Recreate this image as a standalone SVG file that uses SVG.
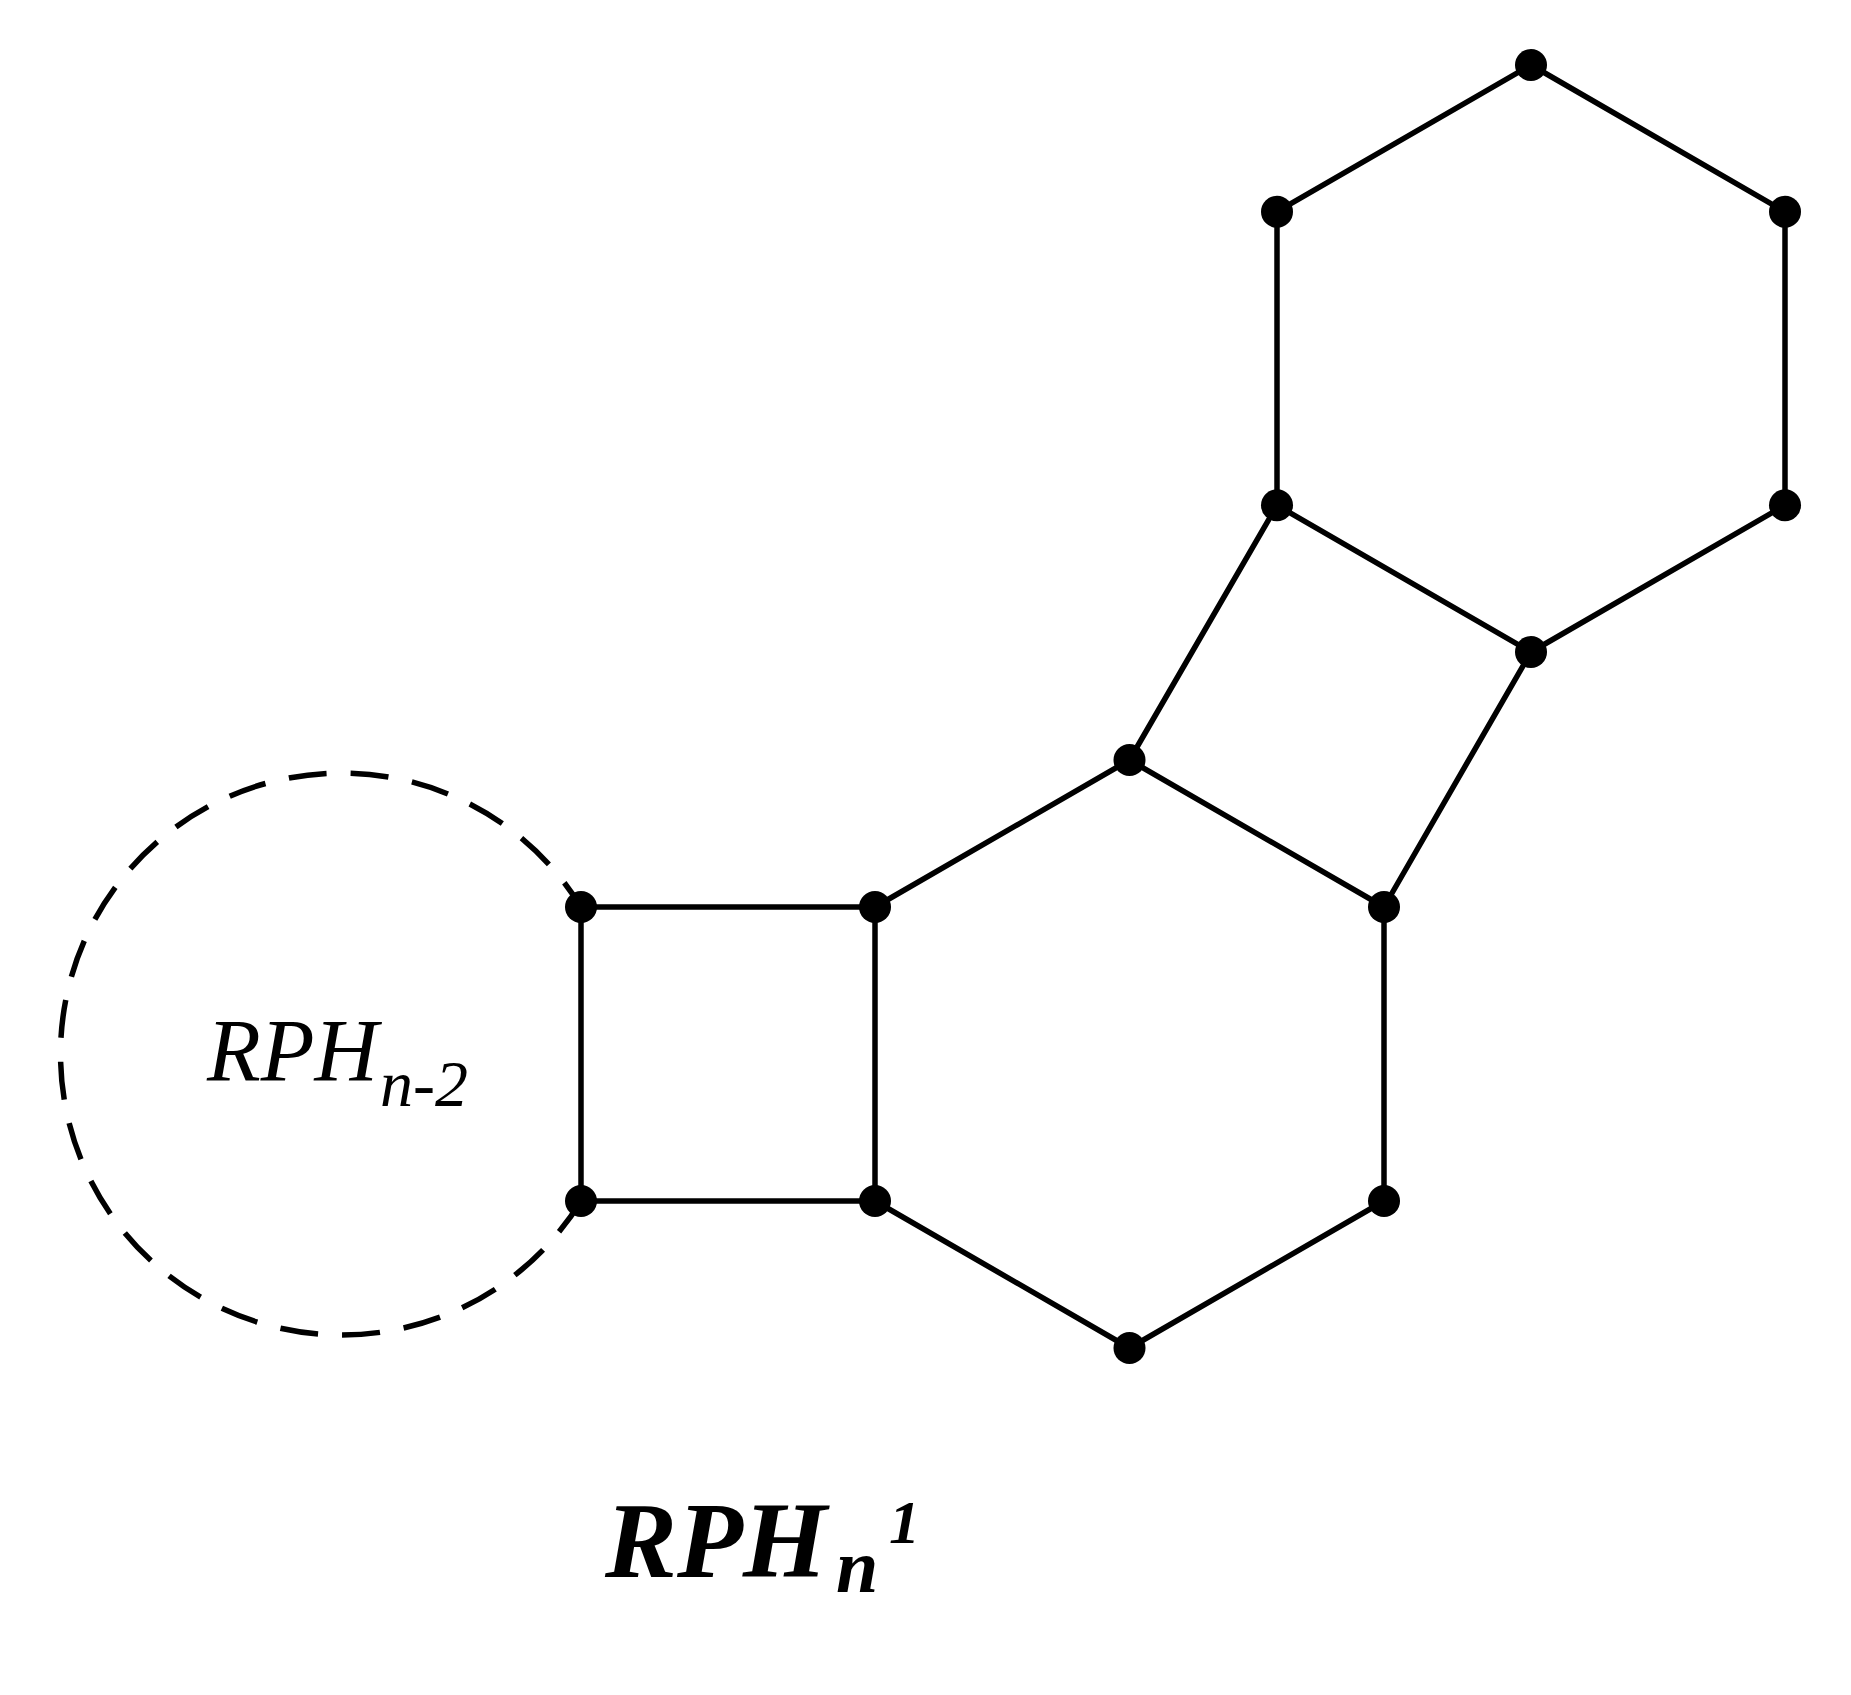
<svg xmlns="http://www.w3.org/2000/svg" width="1851" height="1695" viewBox="0 0 1851 1695">
<style>
.e{stroke:#000;stroke-width:5.5;fill:none;stroke-linecap:round}
.d{stroke:#000;stroke-width:5.5;fill:none;stroke-dasharray:38 24}
.n{fill:#000}
.t{font-family:"Liberation Serif","Times New Roman",serif;font-style:italic;fill:#000}
</style>
<rect width="1851" height="1695" fill="#fff"/>
<g id="region">
<path class="d" d="M581 1201 A281 281 0 1 1 581 907"/>
<text class="t" x="207" y="1080" font-size="88">RPH</text>
<text class="t" x="380" y="1106" font-size="66">n-2</text>
</g>
<g id="connectors">
<line class="e" x1="581" y1="907" x2="875" y2="907"/>
<line class="e" x1="581" y1="907" x2="581" y2="1201"/>
<line class="e" x1="581" y1="1201" x2="875" y2="1201"/>
<line class="e" x1="875" y1="907" x2="875" y2="1201"/>
<line class="e" x1="875" y1="907" x2="1129.5" y2="760"/>
<line class="e" x1="1129.5" y1="760" x2="1384" y2="907"/>
<line class="e" x1="1384" y1="907" x2="1384" y2="1201"/>
<line class="e" x1="1384" y1="1201" x2="1129.5" y2="1348"/>
<line class="e" x1="1129.5" y1="1348" x2="875" y2="1201"/>
<line class="e" x1="1129.5" y1="760" x2="1277" y2="505.3"/>
<line class="e" x1="1277" y1="505.3" x2="1531" y2="652"/>
<line class="e" x1="1531" y1="652" x2="1384" y2="907"/>
<line class="e" x1="1277" y1="505.3" x2="1277" y2="211.7"/>
<line class="e" x1="1277" y1="211.7" x2="1531" y2="65"/>
<line class="e" x1="1531" y1="65" x2="1785" y2="211.7"/>
<line class="e" x1="1785" y1="211.7" x2="1785" y2="505.3"/>
<line class="e" x1="1785" y1="505.3" x2="1531" y2="652"/>
</g>
<g id="v1"><circle class="n" cx="581" cy="907" r="16"/></g>
<g id="v2"><circle class="n" cx="875" cy="907" r="16"/></g>
<g id="v3"><circle class="n" cx="581" cy="1201" r="16"/></g>
<g id="v4"><circle class="n" cx="875" cy="1201" r="16"/></g>
<g id="v5"><circle class="n" cx="1129.5" cy="760" r="16"/></g>
<g id="v6"><circle class="n" cx="1384" cy="907" r="16"/></g>
<g id="v7"><circle class="n" cx="1384" cy="1201" r="16"/></g>
<g id="v8"><circle class="n" cx="1129.5" cy="1348" r="16"/></g>
<g id="v9"><circle class="n" cx="1277" cy="505.3" r="16"/></g>
<g id="v10"><circle class="n" cx="1531" cy="652" r="16"/></g>
<g id="v11"><circle class="n" cx="1277" cy="211.7" r="16"/></g>
<g id="v12"><circle class="n" cx="1531" cy="65" r="16"/></g>
<g id="v13"><circle class="n" cx="1785" cy="211.7" r="16"/></g>
<g id="v14"><circle class="n" cx="1785" cy="505.3" r="16"/></g>
<g id="caption">
<text class="t" x="605" y="1577" font-size="108" font-weight="bold">RPH</text>
<text class="t" x="836" y="1592" font-size="76" font-weight="bold">n</text>
<text class="t" x="889" y="1543" font-size="62" font-weight="bold">1</text>
</g>
</svg>
